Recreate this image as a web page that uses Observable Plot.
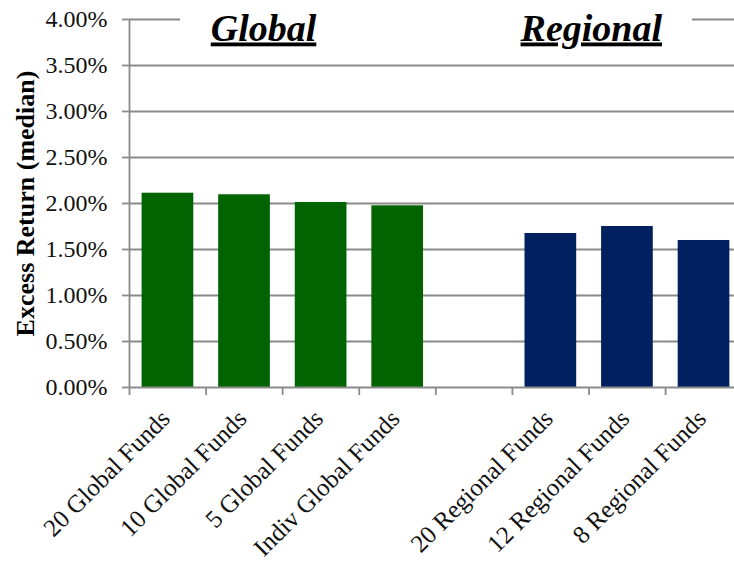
<!DOCTYPE html>
<html>
<head>
<meta charset="utf-8">
<script src="https://cdn.jsdelivr.net/npm/d3@7"></script>
<script src="https://cdn.jsdelivr.net/npm/@observablehq/plot@0.6"></script>
<style>
  html, body { margin: 0; padding: 0; background: #fff; }
</style>
</head>
<body>
<div id="chart"></div>
<script>
// ---- data ----
const categories = ["20 Global Funds", "10 Global Funds", "5 Global Funds", "Indiv Global Funds",
                    "20 Regional Funds", "12 Regional Funds", "8 Regional Funds"];
const groups = ["Global", "Global", "Global", "Global", "Regional", "Regional", "Regional"];
const values = [0.02112, 0.02095, 0.02011, 0.01975, 0.01674, 0.01750, 0.01598];
const groupTitles = ["Global", "Regional"];
const yTicks = [0, 0.005, 0.01, 0.015, 0.02, 0.025, 0.03, 0.035, 0.04];
const yTitle = "Excess Return (median)";

// ---- derived table ----
const groupOrder = [...new Set(groups)];
const rows = categories.map((name, i) => ({
  name,
  group: groups[i],
  value: values[i],
  // one empty slot between groups
  slot: i + groupOrder.indexOf(groups[i])
}));
const slotTicks = d3.range(0, d3.max(rows, d => d.slot) + 1);

const grid = "#8a8a8a";
const colors = {Global: "#006400", Regional: "#00205f"};

const chart = Plot.plot({
  width: 734,
  height: 564,
  marginLeft: 129,
  marginRight: 0,
  marginTop: 19,
  marginBottom: 177,
  x: {domain: [0, 7.9], axis: null},
  y: {domain: [0, 0.04], axis: null},
  style: {fontFamily: "'Liberation Serif', 'Times New Roman', serif", fontSize: "24px", color: "#111", background: "#fff"},
  marks: [
    Plot.ruleY(yTicks.filter(d => d > 0 && d < 0.04), {stroke: grid, strokeWidth: 1.8}),
    Plot.ruleY([0.04], {x1: 0, x2: 0.666, stroke: grid, strokeWidth: 1.8}),
    Plot.ruleY([0.04], {x1: 7.35, x2: 7.9, stroke: grid, strokeWidth: 1.8}),
    Plot.rectY(rows, {
      x1: d => d.slot, x2: d => d.slot + 1, y: "value",
      fill: d => colors[d.group], insetLeft: 12.6, insetRight: 12.3
    }),
    Plot.ruleY([0], {stroke: grid, strokeWidth: 1.8}),
    Plot.ruleX([0], {stroke: grid, strokeWidth: 1.8}),
    Plot.axisY({
      ticks: yTicks, tickFormat: d3.format(".2%"), tickSize: 7, tickPadding: 15,
      stroke: grid, strokeWidth: 1.8, fill: "#111", fontSize: 24, label: null
    }),
    Plot.axisX({
      ticks: slotTicks, tickSize: 8, tickFormat: () => "", stroke: grid, strokeWidth: 1.8, label: null
    }),
    Plot.text(rows, {
      x: d => d.slot + 0.5, y: 0, text: "name", rotate: -45, textAnchor: "end",
      dx: -2, dy: 27, fontSize: 25, fill: "#111"
    }),
    Plot.text(groupTitles, {
      x: (d, i) => [1.75, 6.03][i], y: 0.03904, text: d => d,
      fontSize: 38, fontWeight: "bold", fontStyle: "italic", fill: "#000",
      textAnchor: "middle"
    }),
    Plot.text([yTitle], {
      frameAnchor: "left", rotate: -90, dx: -104, text: d => d, textAnchor: "middle",
      fontSize: 26, fontWeight: "bold", fill: "#000"
    })
  ]
});

chart.querySelectorAll("text").forEach(t => {
  if (groupTitles.includes(t.textContent)) {
    t.style.textDecoration = "underline";
  }
});

document.getElementById("chart").appendChild(chart);
</script>
</body>
</html>
